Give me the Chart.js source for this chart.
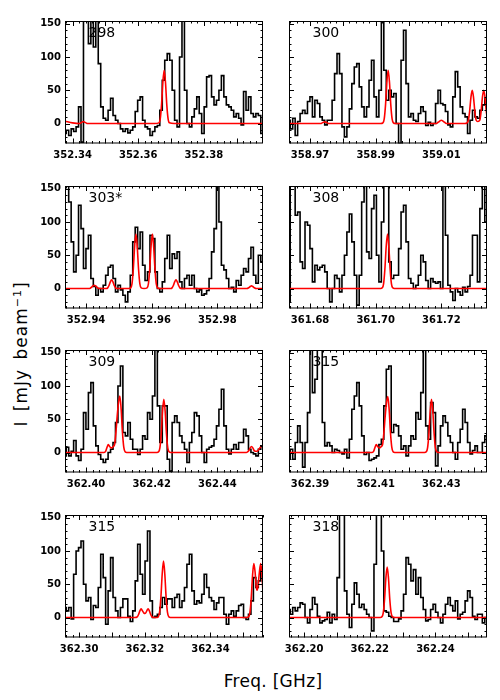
<!DOCTYPE html>
<html>
<head>
<meta charset="utf-8">
<script src="https://cdn.jsdelivr.net/npm/chart.js@4.4.1/dist/chart.umd.min.js"></script>
<style>
body { margin: 0; background: #fff; }
#wrap { position: relative; width: 500px; height: 700px; font-family: "DejaVu Sans", sans-serif; color: #000; overflow: hidden; }
#wrap canvas { position: absolute; }
#ylab { position: absolute; left: 21px; top: 354px; transform: translate(-50%, -50%) rotate(-90deg); white-space: nowrap; font-size: 17px; letter-spacing: 1px; word-spacing: 3px; }
#ylab sup { font-size: 11px; }
#xlab { position: absolute; left: 273px; top: 671px; transform: translateX(-50%); white-space: nowrap; font-size: 17px; line-height: 20px; letter-spacing: 0.3px; }
</style>
</head>
<body>
<div id="wrap">
  <div id="ylab">I [mJy beam<sup>−1</sup>]</div>
  <div id="xlab">Freq. [GHz]</div>
</div>
<script>
// panel labels (transition numbers) and the lower frequency edge of each panel, GHz
const panelLabels = ['298', '300', '303*', '308', '309', '315', '315', '318']
const freqMin = [352.3377, 358.9636, 352.9336, 361.6736, 362.3936, 362.3836, 362.2957, 362.1954]
const freqSpan = 0.0603
const chanWidth = 0.00075

const xTicks298 = [352.34, 352.36, 352.38]
const xTicks300 = [358.97, 358.99, 359.01]
const xTicks303 = [352.94, 352.96, 352.98]
const xTicks308 = [361.68, 361.70, 361.72]
const xTicks309 = [362.40, 362.42, 362.44]
const xTicks315a = [362.39, 362.41, 362.43]
const xTicks315b = [362.30, 362.32, 362.34]
const xTicks318 = [362.20, 362.22, 362.24]
const yTicks = [0, 50, 100, 150]

// observed spectra (mJy/beam), one value per channel
const spec298 = [-15,-10,-18,-8,-12,-5,25,-28,180,200,120,190,115,170,90,25,8,5,20,38,12,5,0,-8,-12,-8,-14,-10,-5,18,35,40,5,-5,-8,-18,-12,-5,-3,20,65,95,105,95,50,5,-5,100,200,50,0,-5,10,22,40,15,-15,25,70,72,40,28,35,50,72,40,28,25,20,10,15,8,-2,48,20,40,15,10,15,12,-15]
const spec300 = [5,-8,8,-18,3,15,20,15,33,40,10,35,30,10,5,-2,5,5,35,75,105,75,-5,-20,-5,22,60,85,90,55,25,10,25,65,95,40,10,50,160,80,35,50,40,45,0,-30,95,140,60,10,15,5,3,15,25,18,-3,2,-3,0,30,50,30,28,18,-2,-5,40,78,55,25,15,10,-15,5,20,10,8,20,28,38,20]
const spec303 = [160,170,130,70,25,50,125,90,30,60,80,15,3,-10,0,-5,5,20,32,35,15,-5,5,-2,-10,-20,-5,20,70,92,60,85,35,12,25,80,75,25,0,-5,10,45,80,30,52,45,55,10,0,15,20,5,20,0,-5,-2,-10,-8,-3,15,55,90,170,100,35,28,15,0,2,-5,12,5,20,30,25,45,62,20,8,50,40,50]
const spec308 = [-20,170,170,110,115,40,30,100,95,60,10,35,28,32,35,25,0,-20,0,20,15,-5,20,50,85,112,70,20,-25,20,130,160,55,45,120,140,50,10,100,170,170,40,15,20,20,60,115,125,70,15,8,0,5,20,50,40,12,0,15,10,8,10,0,170,80,5,-5,-18,0,-5,-10,2,-5,3,20,80,80,10,120,170,100,95]
const spec309 = [-5,8,-5,2,18,-5,-12,5,60,35,90,105,40,10,-3,-10,-15,-10,0,5,15,45,100,130,30,25,45,20,5,5,-3,5,25,20,60,50,85,170,70,15,70,70,-10,-28,45,55,45,25,15,5,-15,15,30,60,55,25,0,-15,5,8,10,20,40,65,95,40,5,-2,5,12,5,15,15,35,25,5,0,-2,-5,5,10,25]
const spec315a = [-10,5,-10,15,40,15,-22,15,60,160,90,110,170,160,45,10,15,10,0,5,3,0,-2,5,-8,20,65,85,105,70,25,-3,0,-12,-10,-8,-5,12,20,70,125,130,30,42,40,25,5,10,-5,10,25,20,60,50,90,170,40,20,75,60,-20,10,40,55,45,25,15,0,-10,15,35,65,45,15,-2,3,10,0,0,15,25,35]
const spec315b = [15,10,15,-2,65,100,105,115,50,25,30,-3,18,15,45,95,60,-10,40,90,30,10,0,15,28,28,2,-6,10,55,110,65,35,85,130,25,0,2,5,15,30,20,28,28,15,30,35,15,25,45,80,95,40,20,25,22,35,65,45,30,25,12,22,30,30,5,-10,5,10,2,10,18,20,0,-3,5,25,60,45,55,75,50]
const spec318 = [12,5,15,10,15,22,20,0,-8,12,30,20,2,-8,-5,-3,8,-8,5,-3,60,170,170,40,5,-15,20,52,35,15,20,12,5,0,-20,80,170,170,100,10,8,2,0,-6,-6,-2,10,35,90,80,55,72,35,60,30,12,-5,-3,12,20,8,0,-8,5,20,30,18,10,25,-2,5,8,25,40,30,2,-3,5,5,-8,0,-5]

// model spectra, [freq GHz, mJy/beam]
const model298 = [[352.3377,3.5],[352.3400,1],[352.3421,0],[352.3425,1],[352.3429,2],[352.3433,3],[352.3437,2],[352.3441,1],[352.3445,0],[352.3650,0],[352.3663,1],[352.3667,7],[352.3671,28],[352.3675,62],[352.3679,80],[352.3683,62],[352.3687,28],[352.3691,7],[352.3695,1],[352.3710,0],[352.3980,0]]
const model300 = [[358.9636,0],[358.9733,0],[358.9737,1],[358.9741,2],[358.9745,2.5],[358.9749,2],[358.9753,1],[358.9757,0],[358.9915,0],[358.9922,1],[358.9926,7],[358.9930,28],[358.9934,62],[358.9938,80],[358.9942,62],[358.9946,28],[358.9950,7],[358.9954,1],[358.9960,0],[359.0084,0],[359.0088,1],[359.0092,2.5],[359.0096,4],[359.0100,5],[359.0104,4],[359.0108,2.5],[359.0112,1],[359.0116,0],[359.0172,0],[359.0178,1],[359.0182,4.5],[359.0186,18],[359.0190,39],[359.0194,50],[359.0198,39],[359.0202,18],[359.0206,5],[359.0211,3],[359.0217,5],[359.0221,18],[359.0225,39],[359.0229,50],[359.0233,39],[359.0237,18],[359.0241,5]]
const model303 = [[352.9336,0],[352.9409,0],[352.9413,0.5],[352.9417,2],[352.9421,4],[352.9425,5],[352.9429,4],[352.9433,2],[352.9437,0.5],[352.9441,0],[352.9462,0],[352.9466,1],[352.9470,4.5],[352.9474,10],[352.9478,13],[352.9482,10],[352.9486,4.5],[352.9490,1],[352.9494,0],[352.9530,0],[352.9536,1],[352.9540,7],[352.9544,29],[352.9548,63],[352.9552,82],[352.9556,63],[352.9560,29],[352.9564,7],[352.9568,1],[352.9577,0],[352.9586,1],[352.9590,7],[352.9594,29],[352.9598,63],[352.9602,82],[352.9606,63],[352.9610,29],[352.9614,7],[352.9618,1],[352.9624,0],[352.9658,0],[352.9662,1],[352.9666,4.5],[352.9670,10],[352.9674,13],[352.9678,10],[352.9682,4.5],[352.9686,1],[352.9690,0],[352.9890,0],[352.9896,1.4],[352.9900,3],[352.9904,4],[352.9908,3],[352.9912,1.4],[352.9918,0],[352.9940,0]]
const model308 = [[361.6736,0],[361.7015,0],[361.7020,1],[361.7024,7],[361.7028,29],[361.7032,63],[361.7036,82],[361.7040,63],[361.7044,29],[361.7048,7],[361.7052,1],[361.7057,0],[361.7340,0]]
const model309 = [[362.3936,0],[362.4055,0],[362.4060,2],[362.4064,8],[362.4068,12],[362.4072,9],[362.4077,7],[362.4083,9],[362.4087,12],[362.4091,30],[362.4095,55],[362.4099,75],[362.4103,85],[362.4107,65],[362.4111,30],[362.4115,8],[362.4119,1],[362.4124,0],[362.4216,0],[362.4221,1],[362.4225,7],[362.4229,28],[362.4233,62],[362.4237,80],[362.4241,62],[362.4245,28],[362.4249,7],[362.4253,1],[362.4258,0],[362.4488,0],[362.4492,1],[362.4496,3],[362.4500,7],[362.4504,9],[362.4508,7],[362.4512,3],[362.4516,2],[362.4520,2],[362.4524,3],[362.4528,6],[362.4532,8.5],[362.4536,9],[362.4540,8]]
const model315a = [[362.3836,0],[362.4089,0],[362.4094,2],[362.4098,8],[362.4102,12],[362.4106,9],[362.4111,7],[362.4117,9],[362.4121,12],[362.4125,30],[362.4129,55],[362.4133,75],[362.4137,84],[362.4141,65],[362.4145,30],[362.4149,8],[362.4153,1],[362.4158,0],[362.4249,0],[362.4254,1],[362.4258,7],[362.4262,28],[362.4266,62],[362.4270,80],[362.4274,62],[362.4278,28],[362.4282,7],[362.4286,1],[362.4291,0],[362.4440,0]]
const model315b = [[362.2957,0],[362.3170,0],[362.3177,1],[362.3181,4.5],[362.3185,10],[362.3189,13],[362.3193,10],[362.3197,7],[362.3200,6],[362.3203,7],[362.3206,10],[362.3210,13],[362.3214,10],[362.3218,4.5],[362.3222,1],[362.3229,0],[362.3237,0],[362.3241,1],[362.3245,8],[362.3249,30],[362.3253,65],[362.3257,85],[362.3261,65],[362.3265,30],[362.3269,8],[362.3273,1],[362.3278,0],[362.3511,0],[362.3516,1],[362.3520,7],[362.3524,28],[362.3528,62],[362.3532,81],[362.3536,68],[362.3539,48],[362.3542,41],[362.3545,48],[362.3549,68],[362.3553,81],[362.3557,62],[362.3561,28]]
const model318 = [[362.1954,0],[362.2232,0],[362.2237,1],[362.2241,7],[362.2245,27],[362.2249,59],[362.2253,76],[362.2257,59],[362.2261,27],[362.2265,7],[362.2269,1],[362.2274,0],[362.2560,0]]

const specs = [spec298, spec300, spec303, spec308, spec309, spec315a, spec315b, spec318]
const models = [model298, model300, model303, model308, model309, model315a, model315b, model318]
const xTicks = [xTicks298, xTicks300, xTicks303, xTicks308, xTicks309, xTicks315a, xTicks315b, xTicks318]

const rowTop = [21, 186, 350, 515]
const plotW = 198
const plotH = 122.5

Chart.defaults.font.family = '"DejaVu Sans", sans-serif'
Chart.defaults.color = '#000'

// IDL-like frame: box plus inward major/minor ticks on all four sides
const frame = {
    id : 'frame',
    afterDatasetsDraw(chart) {
        const {ctx, chartArea : a, scales : {x, y}} = chart
        ctx.save()
        ctx.strokeStyle = '#000'
        ctx.lineWidth = 1
        ctx.strokeRect(a.left + 0.5, a.top + 0.5, a.width - 1, a.height - 1)
        ctx.beginPath()
        for (let k = -2; k <= 15; k++) {
            const py = Math.round(y.getPixelForValue(k * 10)) + 0.5
            if (py < a.top || py > a.bottom) continue
            const len = k % 5 === 0 ? 5 : 2.5
            ctx.moveTo(a.left, py); ctx.lineTo(a.left + len, py)
            ctx.moveTo(a.right, py); ctx.lineTo(a.right - len, py)
        }
        for (let k = Math.ceil(x.min * 500); k <= Math.floor(x.max * 500); k++) {
            const px = Math.round(x.getPixelForValue(k / 500)) + 0.5
            const len = k % 5 === 0 ? 5 : 2.5
            ctx.moveTo(px, a.bottom); ctx.lineTo(px, a.bottom - len)
            ctx.moveTo(px, a.top); ctx.lineTo(px, a.top + len)
        }
        ctx.stroke()
        ctx.restore()
    },
}

const panelLabel = {
    id : 'panelLabel',
    beforeDatasetsDraw(chart, args, opts) {
        const {ctx, chartArea : a} = chart
        ctx.save()
        ctx.fillStyle = '#000'
        ctx.font = '14px "DejaVu Sans", sans-serif'
        ctx.textBaseline = 'alphabetic'
        ctx.fillText(opts.text, a.left + 23.5, a.top + 15.5)
        ctx.restore()
    },
}

const wrap = document.getElementById('wrap')

panelLabels.forEach((label, n) => {
    const col = n % 2
    const row = Math.floor(n / 2)
    const cLeft = col === 0 ? 0 : 270
    const cW = col === 0 ? 275 : 230
    const cH = 165
    const plotLeft = col === 0 ? 65 : 289
    const cv = document.createElement('canvas')
    cv.width = cW
    cv.height = cH
    cv.style.left = cLeft + 'px'
    cv.style.top = (rowTop[row] - 12) + 'px'
    wrap.appendChild(cv)

    const f0 = freqMin[n]
    const specPts = specs[n].map((v, i) => ({x : f0 + i * chanWidth, y : v}))
    const modelPts = models[n].map(([f, v]) => ({x : f, y : v}))
    const ticks = xTicks[n]

    new Chart(cv.getContext('2d'), {
        type : 'line',
        data : {
            datasets : [{
                label : 'model',
                data : modelPts,
                borderColor : '#ff0000',
                borderWidth : 1.6,
                pointRadius : 0,
                cubicInterpolationMode : 'monotone',
                order : 0,
            }, {
                label : 'observed',
                data : specPts,
                borderColor : '#000000',
                borderWidth : 1.6,
                pointRadius : 0,
                stepped : 'middle',
                order : 1,
            }],
        },
        options : {
            responsive : false,
            animation : false,
            events : [],
            layout : {
                padding : {top : 12, left : 0, bottom : 0, right : cW - (plotLeft - cLeft) - plotW},
            },
            scales : {
                x : {
                    type : 'linear',
                    min : f0,
                    max : f0 + freqSpan,
                    afterBuildTicks : s => { s.ticks = ticks.map(v => ({value : v})) },
                    afterFit : s => { s.height = cH - 12 - plotH },
                    grid : {display : false, drawTicks : false},
                    border : {display : false},
                    ticks : {
                        padding : 6,
                        maxRotation : 0,
                        autoSkip : false,
                        font : {size : 10, weight : 'bold'},
                        callback : v => v.toFixed(2),
                    },
                },
                y : {
                    min : -30,
                    max : 154,
                    afterBuildTicks : s => { s.ticks = yTicks.map(v => ({value : v})) },
                    afterFit : s => { s.width = plotLeft - cLeft },
                    grid : {display : false, drawTicks : false},
                    border : {display : false},
                    ticks : {
                        display : col === 0,
                        padding : 4,
                        font : {size : 10, weight : 'bold'},
                    },
                },
            },
            plugins : {
                legend : {display : false},
                tooltip : {enabled : false},
                panelLabel : {text : label},
            },
        },
        plugins : [frame, panelLabel],
    })
})
</script>
</body>
</html>
